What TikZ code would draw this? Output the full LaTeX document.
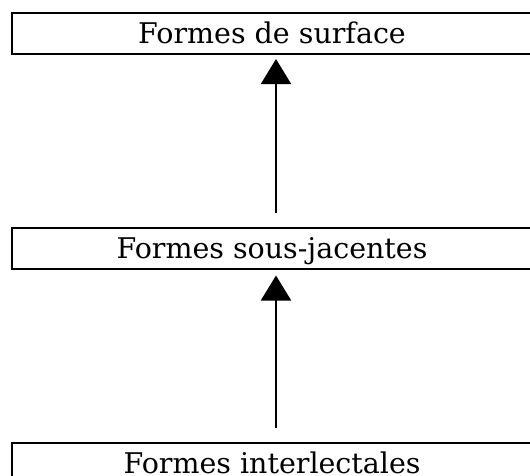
\documentclass[tikz,border=0pt]{standalone}
\usepackage{fontspec}
\setmainfont{DejaVu Serif}
\usetikzlibrary{arrows.meta, positioning}

\begin{document}
\begin{tikzpicture}[
  x=1pt, y=-1pt,
  node distance=172pt,
  formbox/.style={draw, line width=2pt, inner sep=0pt, minimum width=520pt,
    text height=31pt, text depth=10pt, font=\fontsize{28.5pt}{31pt}\selectfont},
  arr/.style={line width=2pt, -{Triangle[width=30pt, length=25pt]}}]

  \clip (0,0) rectangle (530,475);
  \useasboundingbox (0,0) rectangle (530,475);

  \node[formbox] (surface) at (272,33) {Formes de surface};
  \node[formbox, below=of surface] (sousjac) {Formes sous-jacentes};
  \node[formbox, below=of sousjac] (interlect) {Formes interlectales};

  \draw[arr] ([xshift=4pt,yshift=14pt]sousjac.north) -- ([xshift=4pt,yshift=-4.5pt]surface.south);
  \draw[arr] ([xshift=4pt,yshift=14pt]interlect.north) -- ([xshift=4pt,yshift=-6pt]sousjac.south);
\end{tikzpicture}
\end{document}
